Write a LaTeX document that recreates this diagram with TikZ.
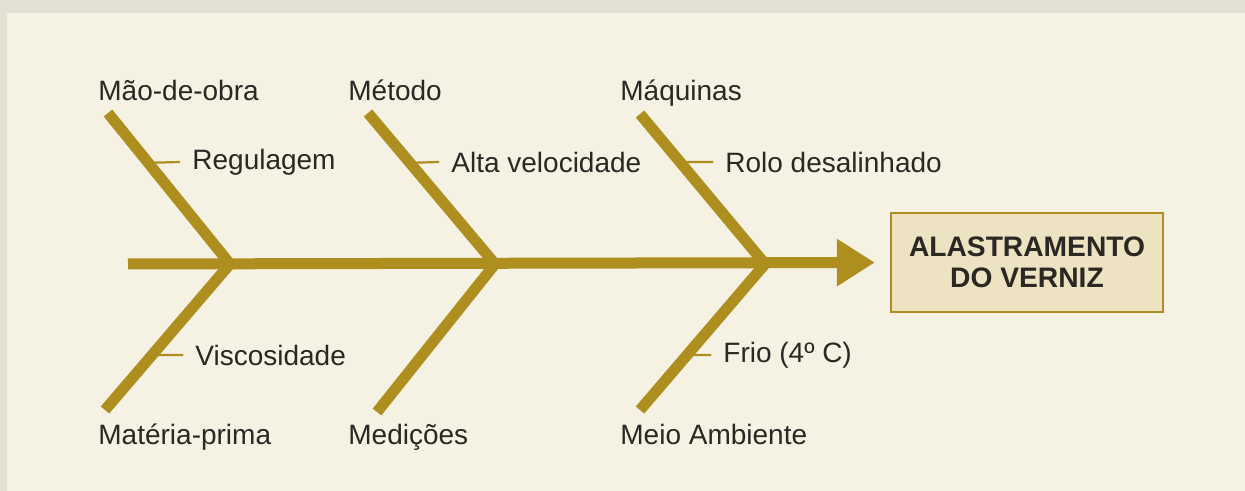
\documentclass[tikz,border=0pt]{standalone}
\usepackage{fontspec}
\setmainfont{Liberation Sans}
\usetikzlibrary{arrows.meta,positioning,calc}

\definecolor{gold}{HTML}{AD8E1E}
\definecolor{paper}{HTML}{F5F1E3}
\definecolor{frame}{HTML}{E4E1D4}
\definecolor{boxfill}{HTML}{EDE2C2}
\definecolor{ink}{HTML}{2B2723}

\tikzset{
    cause/.style={inner sep=0pt, text=ink, font=\fontsize{14}{16}\selectfont},
    sub/.style={cause, anchor=west},
    bone/.style={draw=gold, line width=5.5pt},
    spine/.style={bone, -{Triangle[length=19pt,width=22.5pt]}},
    tick/.style={draw=gold, line width=1.1pt},
    effect/.style={draw=gold, line width=1.2pt, fill=boxfill, text=ink,
        minimum width=136pt, minimum height=49.5pt, align=center,
        font=\fontsize{14.1}{15.5}\selectfont\bfseries}
}

\begin{document}
\begin{tikzpicture}[x=0.5pt, y=-0.5pt]
    \fill[frame] (0,0) rectangle (1245,491);
    \fill[paper] (7,13) rectangle (1245,491);
    \useasboundingbox (0,0) rectangle (1245,491);

    % effect and spine
    \node[effect] (efeito) at (1027,262.5) {ALASTRAMENTO\\DO VERNIZ};
    \coordinate (tail) at (128,264);
    \coordinate (j1) at (230,264);
    \coordinate (j2) at (495,264);
    \coordinate (j3) at (765,264);
    \draw[spine, shorten >=7.5pt] (tail) -- (efeito.west);

    % categories
    \node[cause, anchor=base west] (maoobra) at (98,101) {Mão-de-obra};
    \node[cause, anchor=base west] (metodo) at (348,101) {Método};
    \node[cause, anchor=base west] (maquinas) at (620,101) {Máquinas};
    \node[cause, anchor=base west] (materia) at (98,444) {Matéria-prima};
    \node[cause, anchor=base west] (medicoes) at (348,444) {Medições};
    \node[cause, anchor=base west] (meio) at (620,444) {Meio Ambiente};

    \coordinate (maoobra-end) at (108,113);
    \coordinate (metodo-end) at (368,113);
    \coordinate (maquinas-end) at (640,114);
    \coordinate (materia-end) at (105,410);
    \coordinate (medicoes-end) at (377,412);
    \coordinate (meio-end) at (640,410);

    \draw[bone] (maoobra-end) -- (j1) -- (materia-end);
    \draw[bone] (metodo-end) -- (j2) -- (medicoes-end);
    \draw[bone] (maquinas-end) -- (j3) -- (meio-end);

    % sub causes
    \node[sub] (regulagem) at (192,162) {Regulagem};
    \node[sub] (velocidade) at (451,162) {Alta velocidade};
    \node[sub] (rolo) at (725,162) {Rolo desalinhado};
    \node[sub] (viscosidade) at (195,355) {Viscosidade};
    \node[sub] (frio) at (723,355) {Frio (4º C)};

    \draw[tick] ($(maoobra-end)!0.33!(j1)$) -- ([xshift=-6pt]regulagem.west);
    \draw[tick] ($(metodo-end)!0.33!(j2)$) -- ([xshift=-6pt]velocidade.west);
    \draw[tick] ($(maquinas-end)!0.32!(j3)$) -- ([xshift=-6pt]rolo.west);
    \draw[tick] ($(j1)!0.623!(materia-end)$) -- ([xshift=-6pt]viscosidade.west);
    \draw[tick] ($(j3)!0.623!(meio-end)$) -- ([xshift=-6pt]frio.west);
\end{tikzpicture}
\end{document}
